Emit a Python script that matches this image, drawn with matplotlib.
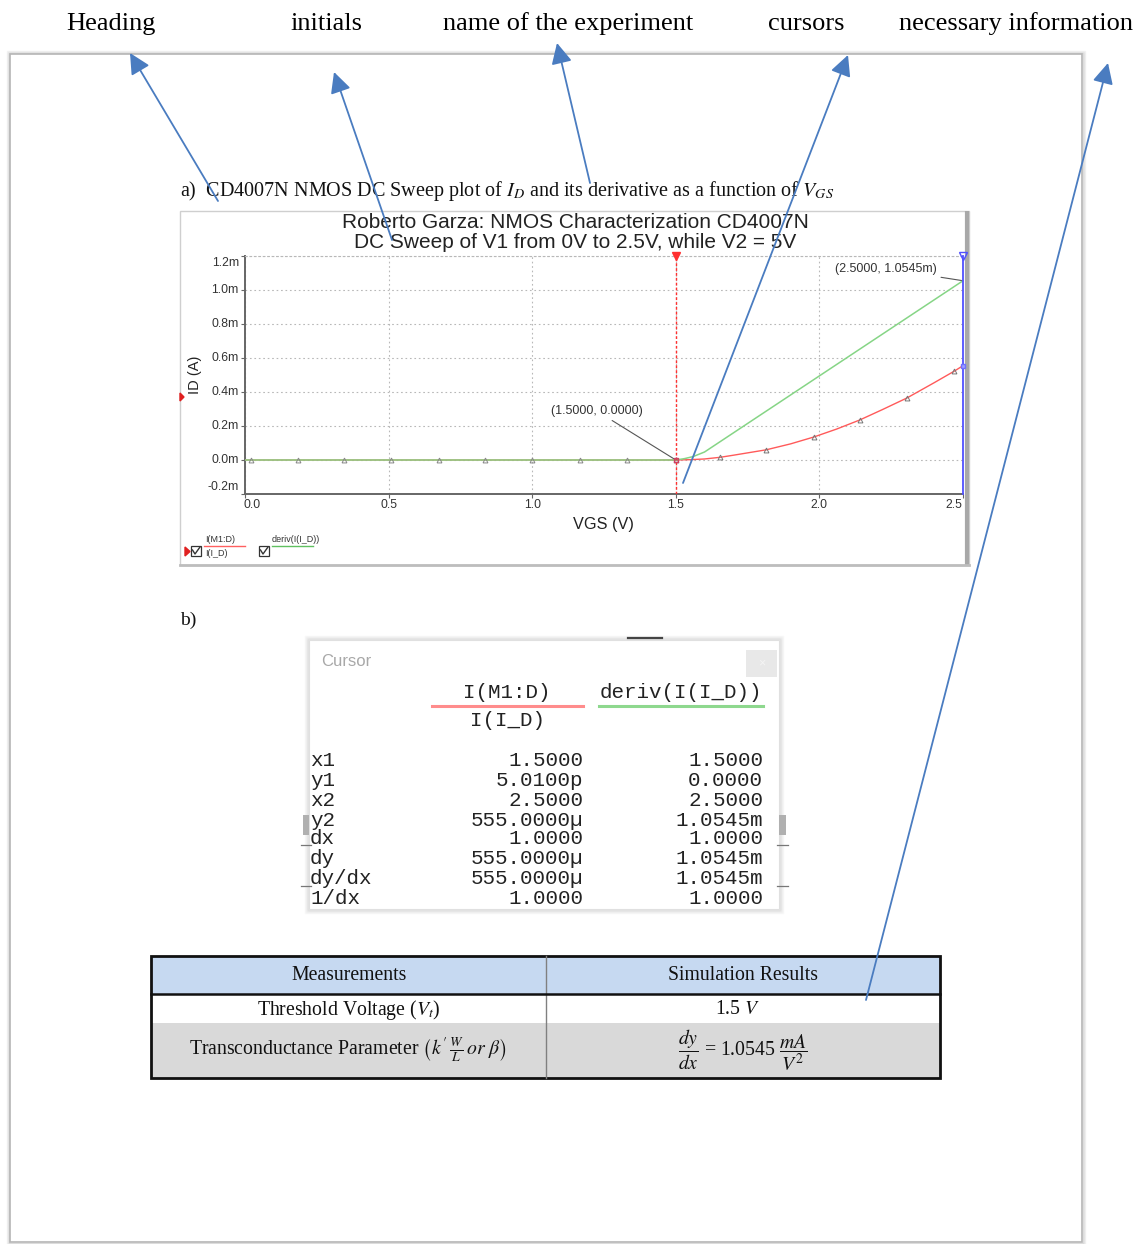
import matplotlib
matplotlib.use("Agg")
import matplotlib.pyplot as plt
from matplotlib.patches import Rectangle, Polygon

plt.rcParams["mathtext.fontset"] = "stix"

# ---------------- data ----------------
# DC sweep of V1 (VGS, volts); currents in mA
vgs_id = [0.0, 1.5, 1.55, 1.6, 1.655, 1.7, 1.815, 1.9, 1.98, 2.06, 2.14, 2.22, 2.305, 2.4, 2.47, 2.5]
id_ma = [0.0, 0.0, 0.002, 0.006, 0.016, 0.028, 0.060, 0.095, 0.135, 0.182, 0.235, 0.297, 0.365, 0.455, 0.523, 0.555]
vgs_deriv = [0.0, 1.5, 1.53, 1.56, 1.6, 2.5]
deriv_ma = [0.0, 0.0, 0.008, 0.020, 0.047, 1.0545]

# trace symbols
marker_v_flat = [0.02, 0.185, 0.345, 0.51, 0.675, 0.835, 1.0, 1.165, 1.33, 1.5]
marker_flat = [0.0] * len(marker_v_flat)
marker_v_id = [1.655, 1.815, 1.98, 2.14, 2.305, 2.47]
marker_id = [0.016, 0.060, 0.135, 0.235, 0.365, 0.523]

x_ticks = [0.0, 0.5, 1.0, 1.5, 2.0, 2.5]
x_tick_labels = ["0.0", "0.5", "1.0", "1.5", "2.0", "2.5"]
y_ticks = [-0.2, 0.0, 0.2, 0.4, 0.6, 0.8, 1.0, 1.2]
y_tick_labels = ["-0.2m", "0.0m", "0.2m", "0.4m", "0.6m", "0.8m", "1.0m", "1.2m"]

cursor1 = (1.5, 0.0)
cursor2 = (2.5, 1.0545)
cursor2_id = 0.555
cursor1_label = "(1.5000, 0.0000)"
cursor2_label = "(2.5000, 1.0545m)"

# cursor readout window
cursor_rows = ["x1", "y1", "x2", "y2", "dx", "dy", "dy/dx", "1/dx"]
col_id = ["1.5000", "5.0100p", "2.5000", "555.0000\u00b5", "1.0000", "555.0000\u00b5", "555.0000\u00b5", "1.0000"]
col_deriv = ["1.5000", "0.0000", "2.5000", "1.0545m", "1.0000", "1.0545m", "1.0545m", "1.0000"]

# callouts above the page
callout_labels = ["Heading", "initials", "name of the experiment", "cursors", "necessary information"]

# ---------------- figure ----------------
W, H = 1141, 1244
fig = plt.figure(figsize=(W / 100, H / 100), dpi=100)
fig.patch.set_facecolor("white")

bg = fig.add_axes([0, 0, 1, 1], zorder=0)
bg.set_xlim(0, W)
bg.set_ylim(H, 0)
bg.axis("off")

SERIF = ["Liberation Serif", "DejaVu Serif"]
SANS = ["Liberation Sans", "DejaVu Sans"]
MONO = ["Liberation Mono", "DejaVu Sans Mono"]
PT = 0.72  # points per pixel at 100 dpi

# page with a soft shadow
for d, a in [(3, 0.10), (2, 0.15), (1, 0.25)]:
    bg.add_patch(Rectangle((10 - d, 54 - d), 1072 + 2 * d, 1188 + 2 * d, fill=False,
                           edgecolor="#808080", lw=1.0, alpha=a))
bg.add_patch(Rectangle((10, 54), 1072, 1188, facecolor="white", edgecolor="#b5b5b5", lw=1.2))

# callout labels
callout_x = [111, 326, 568, 806, 1016]
for lab, x in zip(callout_labels, callout_x):
    bg.text(x, 24, lab, ha="center", va="center", fontsize=19, family=SERIF, color="black")

# caption a)
bg.text(180, 191, r"a)  CD4007N NMOS DC Sweep plot of $I_D$ and its derivative as a function of $V_{GS}$",
        ha="left", va="center", fontsize=14.5, family=SERIF, color="#111")
bg.text(180, 620, "b)", ha="left", va="center", fontsize=14, family=SERIF, color="#111")

# chart panel
bg.add_patch(Rectangle((180, 211), 789, 354, facecolor="white", edgecolor="#cfcfcf", lw=1.0))
bg.plot([967, 967], [211, 566], color="#a8a8a8", lw=3.0, solid_capstyle="butt")
bg.plot([180, 969], [565, 565], color="#bdbdbd", lw=2.0)

bg.text(575, 223, "Roberto Garza: NMOS Characterization CD4007N", ha="center", va="center",
        fontsize=15, family=SANS, color="#222")
bg.text(575, 243, "DC Sweep of V1 from 0V to 2.5V, while V2 = 5V", ha="center", va="center",
        fontsize=15, family=SANS, color="#222")
bg.text(603, 524, "VGS (V)", ha="center", va="center", fontsize=11.7, family=SANS, color="#222")
bg.text(195, 375, "ID (A)", ha="center", va="center", rotation=90, fontsize=10.5, family=SANS, color="#222")
bg.add_patch(Polygon([[180, 393], [180, 401], [184, 397]], closed=True, color="#e02020"))

# legend of the traces
bg.text(205, 540, "I(M1:D)", ha="left", va="center", fontsize=6.5, family=SANS, color="#333")
bg.plot([204, 245], [546, 546], color="#ff6060", lw=1.0)
bg.text(205, 554, "I(I_D)", ha="left", va="center", fontsize=6.5, family=SANS, color="#333")
bg.text(272, 539, "deriv(I(I_D))", ha="left", va="center", fontsize=6.5, family=SANS, color="#333")
bg.plot([272, 313], [546, 546], color="#60c060", lw=1.0)
for bx in (191, 259):
    bg.add_patch(Rectangle((bx, 546), 10, 10, fill=False, edgecolor="#333", lw=0.9))
    bg.plot([bx + 1.5, bx + 4, bx + 9], [550, 554, 547], color="#333", lw=1.0)
bg.add_patch(Polygon([[185, 547], [185, 556], [190, 551.5]], closed=True, color="#e02020"))

# ---------------- chart ----------------
ax = fig.add_axes([245 / W, 1 - 494 / H, (963 - 245) / W, (494 - 256) / H], zorder=1)
ax.set_xlim(0, 2.5)
ax.set_ylim(-0.2, 1.2)
ax.set_facecolor("none")
ax.set_xticks(x_ticks)
ax.set_yticks(y_ticks)
ax.tick_params(labelleft=False, labelbottom=False, length=3, width=0.8, color="#666")
ax.grid(True, ls=(0, (1.5, 2.5)), color="#b8b8b8", lw=0.8)
ax.spines["right"].set_visible(False)
ax.spines["top"].set_linestyle((0, (1.5, 2.5)))
ax.spines["top"].set_color("#b8b8b8")
ax.spines["top"].set_linewidth(0.8)
for s in ("left", "bottom"):
    ax.spines[s].set_color("#666")
    ax.spines[s].set_linewidth(1.4)

# tick labels; the end labels are pulled inside the axis range (pixels, + = down / right)
ylab_shift = {"1.2m": 7, "-0.2m": -7}
for v, t in zip(y_ticks, y_tick_labels):
    ax.annotate(t, xy=(0, v), xycoords=("axes fraction", "data"),
                xytext=(-6 * PT, -ylab_shift.get(t, 0) * PT), textcoords="offset points",
                ha="right", va="center", fontsize=8.8, family=SANS, color="#333")
xlab_shift = {"0.0": 7, "2.5": -9}
for v, t in zip(x_ticks, x_tick_labels):
    ax.annotate(t, xy=(v, 0), xycoords=("data", "axes fraction"),
                xytext=(xlab_shift.get(t, 0) * PT, -11 * PT), textcoords="offset points",
                ha="center", va="center", fontsize=8.8, family=SANS, color="#333")

ax.plot(vgs_id, id_ma, color="#ff5a5a", lw=1.0, zorder=3)
ax.plot(vgs_deriv, deriv_ma, color="#86d586", lw=1.1, zorder=4)
ax.plot(marker_v_flat, marker_flat, ls="none", marker="^", ms=3.5, mfc="none", mec="#888", mew=0.7, zorder=5)
ax.plot(marker_v_id, marker_id, ls="none", marker="^", ms=3.5, mfc="none", mec="#777", mew=0.7, zorder=5)

# cursors
ax.axvline(cursor1[0], color="#ff3030", ls=(0, (2, 1.5)), lw=1.0, zorder=6)
ax.axvline(cursor2[0], color="#5050ff", lw=1.3, zorder=6, clip_on=False)
ax.plot([cursor1[0]], [1.2], marker="v", ms=6, color="#ff3030", clip_on=False, zorder=7)
ax.plot([cursor2[0]], [1.2], marker="v", ms=6, mfc="none", mec="#5050ff", clip_on=False, zorder=7)
ax.plot([cursor1[0]], [cursor1[1]], marker="s", ms=3.5, mfc="none", mec="#d04060", zorder=7)
ax.plot([cursor2[0]], [cursor2_id], marker="s", ms=3.5, mfc="#a0a0ff", mec="#7070ff", clip_on=False, zorder=7)

ax.annotate(cursor1_label, xy=cursor1, xytext=(-79 * PT, 49 * PT), textcoords="offset points",
            ha="center", va="center", fontsize=9, family=SANS, color="#333",
            arrowprops=dict(arrowstyle="-", color="#555", lw=0.8, shrinkA=1, shrinkB=0))
ax.annotate(cursor2_label, xy=cursor2, xytext=(-77 * PT, 12 * PT), textcoords="offset points",
            ha="center", va="center", fontsize=9, family=SANS, color="#333",
            arrowprops=dict(arrowstyle="-", color="#555", lw=0.8, shrinkA=1, shrinkB=0))

# ---------------- cursor window ----------------
for d, a in [(4, 0.05), (3, 0.08), (2, 0.12), (1, 0.18)]:
    bg.add_patch(Rectangle((309 - d, 640 - d), 470 + 2 * d, 269 + 2 * d, fill=False,
                           edgecolor="#777", lw=1.0, alpha=a))
bg.add_patch(Rectangle((309, 640), 470, 269, facecolor="white", edgecolor="#e0e0e0", lw=0.8))
bg.plot([628, 662], [638, 638], color="#444", lw=1.6)
bg.add_patch(Rectangle((746, 650), 31, 27, facecolor="#e8e8e8", edgecolor="none"))
bg.text(761.5, 663.5, "\u00d7", ha="center", va="center", fontsize=9, color="#f4f4f4", family=SANS)
bg.text(321, 661, "Cursor", ha="left", va="center", fontsize=12, family=SANS, color="#a8a8a8")

# side scrollbar fragments
for x0, x1 in ((303, 309), (779, 786)):
    bg.add_patch(Rectangle((x0, 815), x1 - x0, 20, facecolor="#b0b0b0", edgecolor="none"))
    bg.plot([x0 - 2, x1 + 2], [845, 845], color="#777", lw=0.9)
    bg.plot([x0 - 2, x1 + 2], [886, 886], color="#777", lw=0.9)

MONO_FS = 15
bg.text(507, 692, "I(M1:D)", ha="center", va="center", fontsize=MONO_FS, family=MONO, color="#222")
bg.plot([432, 583], [706, 706], color="#ff8c8c", lw=2.2)
bg.text(507, 720, "I(I_D)", ha="center", va="center", fontsize=MONO_FS, family=MONO, color="#222")
bg.text(681, 692, "deriv(I(I_D))", ha="center", va="center", fontsize=MONO_FS, family=MONO, color="#222")
bg.plot([599, 763], [706, 706], color="#8ed88e", lw=2.2)

row_y = [760, 780, 800, 820, 839, 859, 879, 898]
for y, r, a, b in zip(row_y, cursor_rows, col_id, col_deriv):
    bg.text(310, y, r, ha="left", va="center", fontsize=MONO_FS, family=MONO, color="#222")
    bg.text(583, y, a, ha="right", va="center", fontsize=MONO_FS, family=MONO, color="#222")
    bg.text(763, y, b, ha="right", va="center", fontsize=MONO_FS, family=MONO, color="#222")

# ---------------- measurements table ----------------
bg.add_patch(Rectangle((151, 956), 789, 38, facecolor="#c6d9f1", edgecolor="none"))
bg.add_patch(Rectangle((151, 994), 789, 29, facecolor="white", edgecolor="none"))
bg.add_patch(Rectangle((151, 1023), 789, 55, facecolor="#d9d9d9", edgecolor="none"))
bg.plot([546, 546], [956, 1078], color="#808080", lw=1.0)
bg.plot([151, 940], [994, 994], color="#111", lw=1.8)
bg.add_patch(Rectangle((151, 956), 789, 122, fill=False, edgecolor="#111", lw=2.0))

TFS = 14.2
bg.text(349, 976, "Measurements", ha="center", va="center", fontsize=TFS, family=SERIF, color="#111")
bg.text(743, 976, "Simulation Results", ha="center", va="center", fontsize=TFS, family=SERIF, color="#111")
bg.text(349, 1010, r"Threshold Voltage ($V_t$)", ha="center", va="center", fontsize=TFS, family=SERIF, color="#111")
bg.text(738, 1010, r"1.5 $V$", ha="center", va="center", fontsize=TFS, family=SERIF, color="#111")
bg.text(348, 1050, r"Transconductance Parameter $\left(k^{\prime}\,\frac{W}{L}\,or\ \beta\right)$",
        ha="center", va="center", fontsize=TFS, family=SERIF, color="#111")
bg.text(743, 1050, r"$\dfrac{dy}{dx}$ = 1.0545 $\dfrac{mA}{V^2}$", ha="center", va="center",
        fontsize=TFS, family=SERIF, color="#111")

# ---------------- callout arrows ----------------
ov = fig.add_axes([0, 0, 1, 1], zorder=3)
ov.set_xlim(0, W)
ov.set_ylim(H, 0)
ov.axis("off")
ov.patch.set_visible(False)
arrow_heads = [(130, 53), (334, 72), (557, 43), (848, 55), (1108, 63)]
arrow_tails = [(218, 201), (392, 240), (590, 183), (683, 483), (866, 1000)]
for hd, tl in zip(arrow_heads, arrow_tails):
    ov.annotate("", xy=hd, xytext=tl,
                arrowprops=dict(arrowstyle="-|>,head_length=0.9,head_width=0.45", color="#4a7cc0",
                                lw=1.3, shrinkA=0, shrinkB=0, mutation_scale=14))

fig.savefig("out.png", dpi=100)
